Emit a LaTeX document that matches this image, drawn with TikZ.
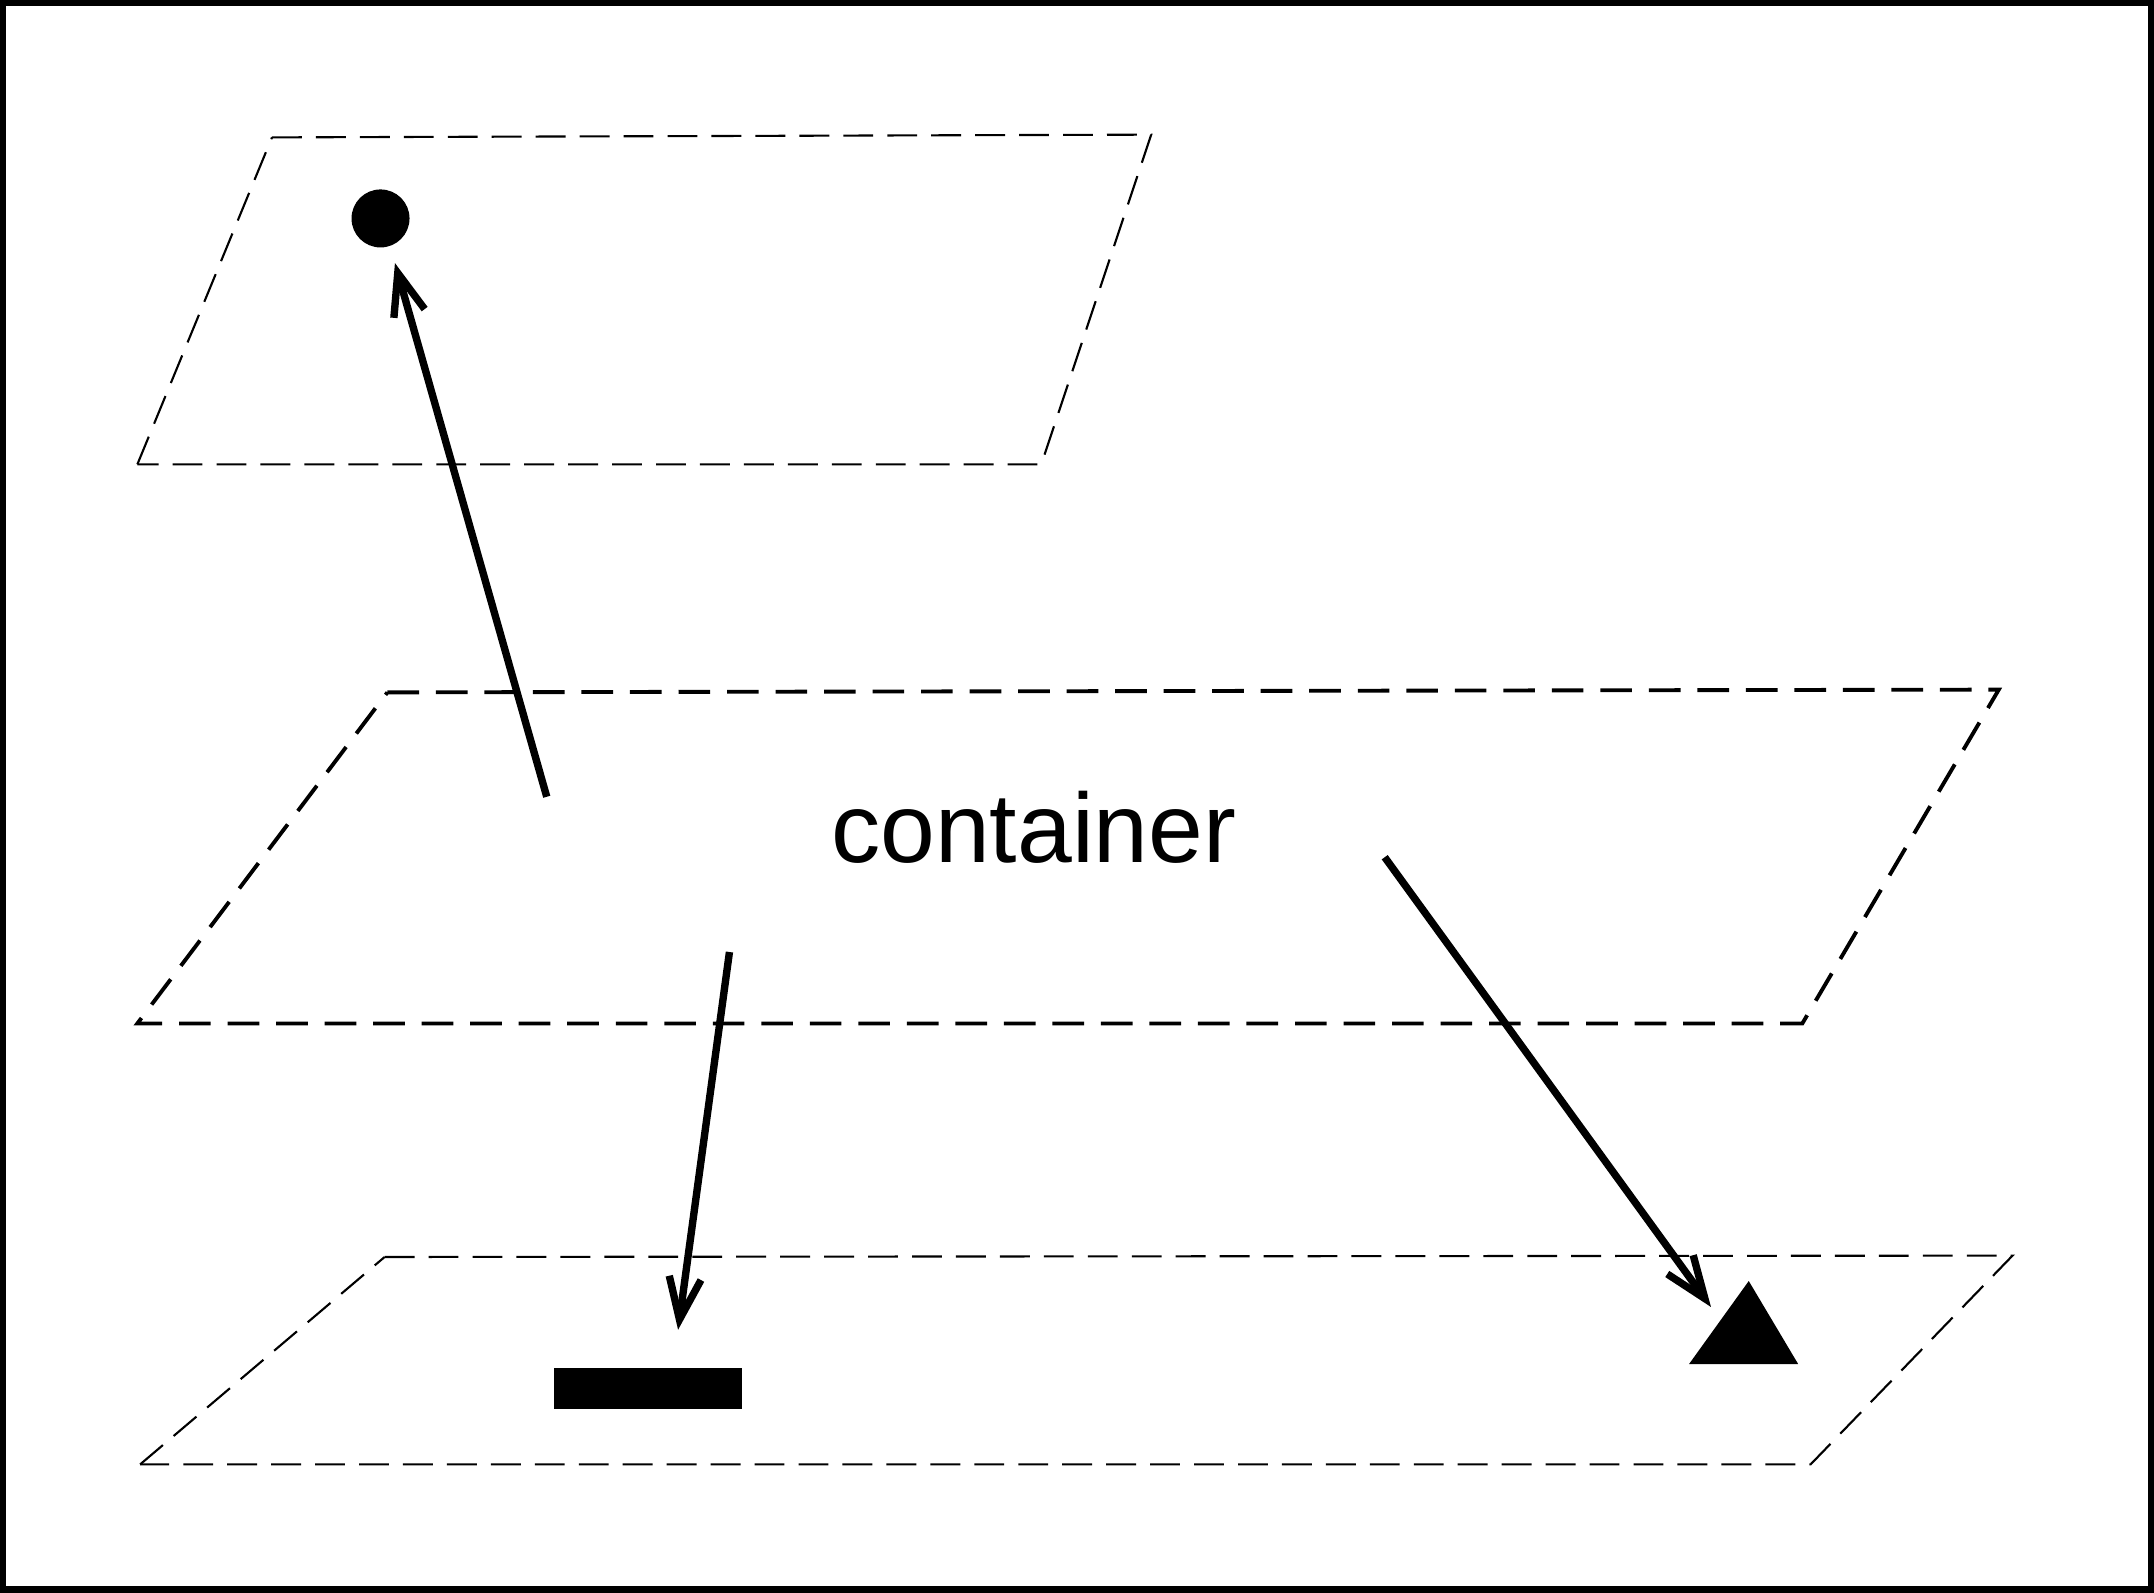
\documentclass[tikz,border=0pt]{standalone}
\usepackage{fontspec}
\setmainfont{Liberation Sans}
\usetikzlibrary{arrows.meta}

\begin{document}
\begin{tikzpicture}[x=0.013737cm,y=-0.013737cm,
    plane/.style={line width=0.6pt,dash pattern=on 8.5pt off 4pt},
    midplane/.style={line width=1.1pt,dash pattern=on 9pt off 4.8pt},
    arr/.style={line width=2.1pt,-{Straight Barb[length=4.2mm,width=3.2mm]}}]
      \useasboundingbox (0,0) rectangle (1568,1159);
      \draw[line width=2pt] (2,2) rectangle (1566,1157);
      % the three planes
      \draw[plane]    (198,100) -- (838,98) -- (758,338) -- (100,338);
      \draw[midplane] (282,504) -- (1455,502) -- (1312,745) -- (100,745) -- cycle;
      \draw[plane]    (280,915) -- (1465,914) -- (1318,1066) -- (102,1066);
      \draw[plane]    (100,338) -- (198,100);
      \draw[plane]    (102,1066) -- (280,915);
      % shapes
      \node (Dot) at (277,159) [circle,fill,inner sep=0pt,minimum size=0.58cm] {};
      \node (Bar) at (471.5,1011) [rectangle,fill,inner sep=0pt,minimum width=1.88cm,minimum height=0.41cm] {};
      \fill (1273,932.5) -- (1309,993) -- (1229.5,993) -- cycle;
      \coordinate (Tri) at (1270,973);
      \node (Ctr) at (752.5,628) [anchor=base,inner sep=0pt] {\fontsize{28}{34}\selectfont container};
      % arrows
      \coordinate (S1) at (398,580);
      \coordinate (T1) at (287.5,191.5);
      \coordinate (S2) at (531,693);
      \coordinate (T2) at (493.6,968);
      \coordinate (S3) at (1008,624);
      \coordinate (T3) at (1245.5,951.4);
      \draw[arr] (S1) -- (T1);
      \draw[arr] (S2) -- (T2);
      \draw[arr] (S3) -- (T3);
    \end{tikzpicture}
\end{document}
